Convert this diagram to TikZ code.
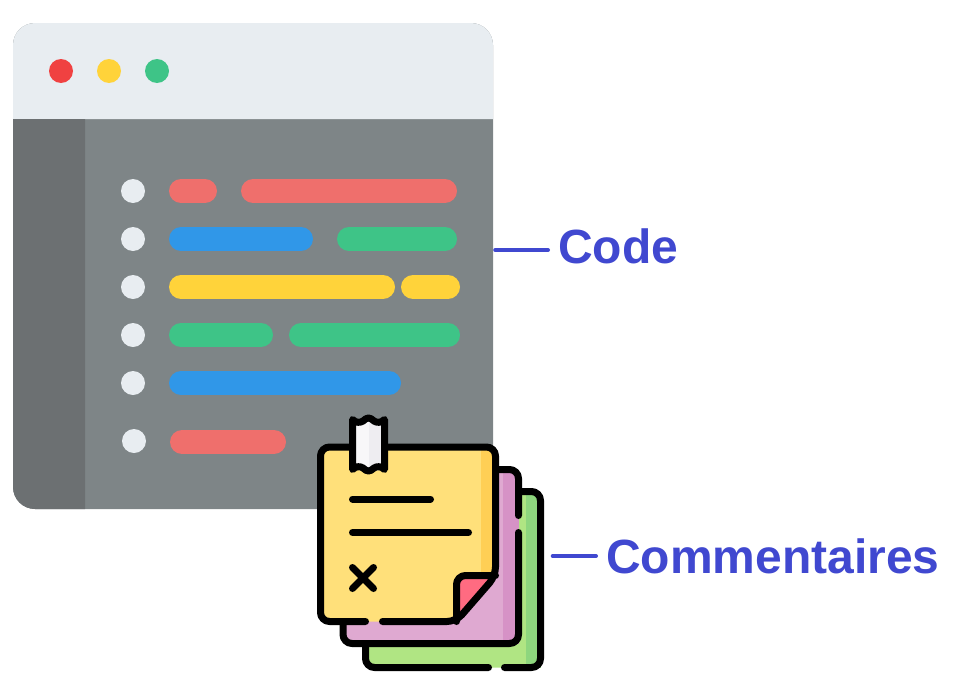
\documentclass[tikz,border=0pt]{standalone}
\usepackage{fontspec}
\setmainfont{Liberation Sans}
\usetikzlibrary{calc}
\definecolor{barcol}{HTML}{E8EDF1}
\definecolor{bodycol}{HTML}{7E8587}
\definecolor{sidecol}{HTML}{6C7072}
\definecolor{redcol}{HTML}{F04141}
\definecolor{salmoncol}{HTML}{EF6F6C}
\definecolor{yellowcol}{HTML}{FFD33A}
\definecolor{greencol}{HTML}{3EC487}
\definecolor{bluecol}{HTML}{3097E8}
\definecolor{labelcol}{HTML}{4048D0}
\definecolor{notegreencol}{HTML}{B0E583}
\definecolor{notegreendark}{HTML}{8ED67E}
\definecolor{notepurplecol}{HTML}{DFA9D1}
\definecolor{notepurpledark}{HTML}{D692C6}
\definecolor{noteyellowcol}{HTML}{FFE07A}
\definecolor{noteyellowdark}{HTML}{FFCF55}
\definecolor{notepinkcol}{HTML}{FF6B81}
\definecolor{tapelight}{HTML}{F8F7F9}
\definecolor{tapedark}{HTML}{EEEDF1}
\begin{document}
\begin{tikzpicture}[
    x=1pt, y=-1pt,
    pill/.style={line width=24pt, line cap=round},
    dot/.style={circle, minimum size=24pt, inner sep=0pt},
    ink/.style={line width=7pt, line cap=round, line join=round, rounded corners=9pt},
    inkline/.style={line width=7pt, line cap=round},
    sheet/.style={rectangle, rounded corners=9pt, inner sep=0pt},
    leader/.style={line width=4pt, labelcol, line cap=round},
    tag/.style={font=\fontsize{48}{48}\selectfont\bfseries, text=labelcol, anchor=base west, inner sep=0pt},
]
\useasboundingbox (0,0) rectangle (968,680);

% Window
\node[rectangle, fill=bodycol, rounded corners=22pt, minimum width=480pt, minimum height=486pt, inner sep=0pt] (window) at (253,266) {};
\fill[barcol] (13,119) [rounded corners=22pt] -- (13,23) -- (493,23) [sharp corners] -- (493,119) -- cycle;
\fill[sidecol] (13,119) -- (85,119) -- (85,509) [rounded corners=22pt] -- (13,509) [sharp corners] -- cycle;

% Title bar buttons
\node[dot, fill=redcol] (btnred) at (61,71) {};
\node[dot, fill=yellowcol] (btnyellow) at (109,71) {};
\node[dot, fill=greencol] (btngreen) at (157,71) {};

% Line markers
\foreach \y in {191,239,287,335,383}
    \node[dot, fill=barcol] (mark\y) at (133,\y) {};
\node[dot, fill=barcol] (mark441) at (134,441) {};

% Code lines
\foreach \xa/\xb/\y/\col in {
    181/205/191/salmoncol, 253/445/191/salmoncol,
    181/301/239/bluecol, 349/445/239/greencol,
    181/383/287/yellowcol, 413/448/287/yellowcol,
    181/261/335/greencol, 301/448/335/greencol,
    181/389/383/bluecol,
    182/274/442/salmoncol}
    \draw[pill, \col] (\xa,\y) -- (\xb,\y);

% Green sheet
\node[sheet, fill=notegreencol, minimum width=175pt, minimum height=176pt] (notegreen) at (453,579.5) {};
\fill[notegreendark] (526,491.5) -- (540.5,491.5) -- (540.5,667.5) -- (526,667.5) -- cycle;
\draw[ink] (488.5,667.5) -- (365.5,667.5) -- (365.5,491.5) -- (540.5,491.5) -- (540.5,667.5) -- (504.5,667.5);

% Purple sheet
\node[sheet, fill=notepurplecol, minimum width=175.5pt, minimum height=174pt] (notepurple) at (430.75,556.5) {};
\fill[notepurpledark] (503,469.5) -- (518.5,469.5) -- (518.5,643.5) -- (503,643.5) -- cycle;
\draw[ink] (518.5,515.5) -- (518.5,469.5) -- (343,469.5) -- (343,643.5) -- (518.5,643.5) -- (518.5,532.5);

% Yellow sheet
\fill[noteyellowcol, rounded corners=9pt] (320.5,447) -- (495.5,447) -- (495.5,577) -- (458,621.5) -- (320.5,621.5) -- cycle;
\fill[noteyellowdark] (481,450) -- (492,450) -- (492,575) -- (481,575) -- cycle;
\fill[notepinkcol] (458,577) -- (493,577) -- (458,618) -- cycle;
\draw[ink] (365.5,621.5) -- (320.5,621.5) -- (320.5,447) -- (495.5,447) -- (495.5,576) -- (456,621.5) -- (382.5,621.5);
\draw[ink] (456.5,621.5) -- (456.5,575.5) -- (495.5,575.5);

% Text lines on the sheet
\draw[inkline] (352.5,499) -- (430.5,499);
\draw[inkline] (352.5,532.5) -- (468.5,532.5);
\draw[inkline] (352.5,567.5) -- (373.5,588.5);
\draw[inkline] (373.5,567.5) -- (352.5,588.5);

% Tape
\fill[tapelight] (352.5,420) -- (369,418) -- (369,472) -- (352.5,469) -- cycle;
\fill[tapedark] (369,418) -- (385,420) -- (385,469) -- (369,472) -- cycle;
\draw[inkline, line join=round] (352.5,469.5) .. controls (356,466) and (360,466) .. (363,468) .. controls (365,470) and (367,471) .. (368.5,471) .. controls (370,471) and (372,470) .. (374,468) .. controls (377,466) and (381,466) .. (384.5,469.5) -- (384.5,419.5) .. controls (381,423) and (377,423) .. (374,421) .. controls (372,419) and (370,418) .. (368.5,418) .. controls (367,418) and (365,419) .. (363,421) .. controls (360,423) and (356,423) .. (352.5,419.5) -- cycle;

% Labels
\node[tag] (code) at (558,263) {Code};
\node[tag] (comments) at (606,573) {Commentaires};
\coordinate (codetick) at (548,250);
\coordinate (commenttick) at (596,556);
\draw[leader] ($(window.east |- codetick)+(2,0)$) -- (codetick);
\draw[leader] ($(notegreen.east |- commenttick)+(12,0)$) -- (commenttick);

\end{tikzpicture}
\end{document}
